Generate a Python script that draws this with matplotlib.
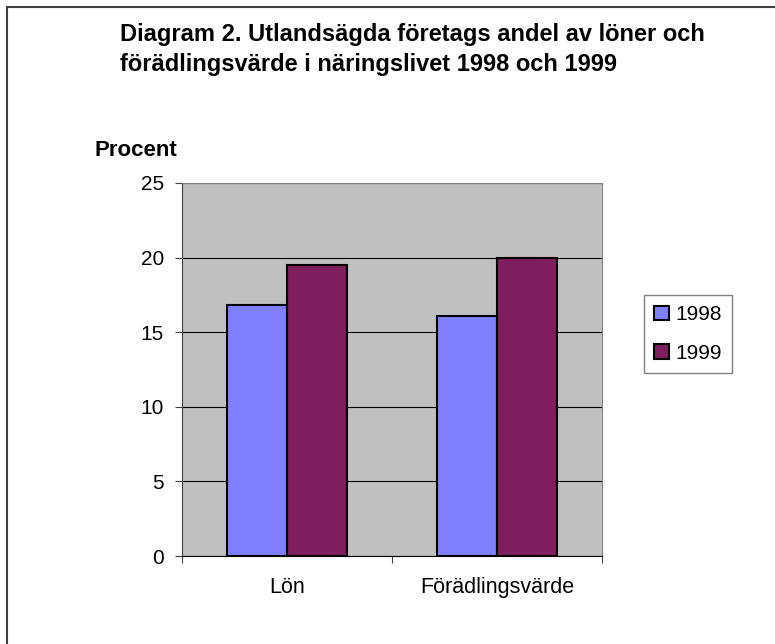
import matplotlib
matplotlib.use("Agg")
import matplotlib.pyplot as plt
from matplotlib.patches import Rectangle
import numpy as np

# data
categories = ["Lön", "Förädlingsvärde"]
years = ["1998", "1999"]
values_1998 = [16.8, 16.1]
values_1999 = [19.5, 20.0]
colors = ["#8080FF", "#7F1F5F"]

plt.rcParams["font.family"] = ["Liberation Sans", "DejaVu Sans"]

W, H = 775, 644
fig = plt.figure(figsize=(W / 100, H / 100), dpi=100)

def fx(px):
    return px / W

def fy(py):
    return 1 - py / H

# outer chart border (clipped at right and bottom like the source)
fig.patches.append(Rectangle((fx(7), fy(660)), fx(800), 660 / H - 7 / H,
                             transform=fig.transFigure, fill=False,
                             edgecolor="#404040", linewidth=1.5))

ax = fig.add_axes([fx(182), fy(556), fx(602) - fx(182), (556 - 183) / H])
ax.set_facecolor("#C0C0C0")

x = np.arange(len(categories))
w = 60 / 210
ax.bar(x - w / 2, values_1998, w, color=colors[0], edgecolor="black",
       linewidth=1.5, label=years[0], zorder=3)
ax.bar(x + w / 2, values_1999, w, color=colors[1], edgecolor="black",
       linewidth=1.5, label=years[1], zorder=3)

ax.set_xlim(-0.5, 1.5)
ax.set_ylim(0, 25)
ax.set_yticks([0, 5, 10, 15, 20, 25])
ax.yaxis.grid(True, color="black", linewidth=0.8, zorder=1)
ax.set_axisbelow(True)

ax.set_xticks([-0.5, 0.5, 1.5])
ax.set_xticklabels([])
ax.tick_params(axis="x", direction="out", length=5, color="#404040")
ax.tick_params(axis="y", direction="out", length=5, color="#404040",
               labelsize=15, pad=8)
for i, c in enumerate(categories):
    ax.text(i, -2.1, c, ha="center", va="center", fontsize=15.5)

for s in ["top", "right"]:
    ax.spines[s].set_color("#808080")
ax.spines["left"].set_color("#404040")
ax.spines["bottom"].set_color("black")

fig.text(fx(120), fy(35), "Diagram 2. Utlandsägda företags andel av löner och",
         ha="left", va="center", fontsize=17, fontweight="bold")
fig.text(fx(120), fy(65), "förädlingsvärde i näringslivet 1998 och 1999",
         ha="left", va="center", fontsize=17, fontweight="bold")
fig.text(fx(95), fy(150), "Procent", ha="left", va="center", fontsize=16,
         fontweight="bold")

leg = ax.legend(loc="center left", bbox_to_anchor=(fx(644), fy(334)),
                bbox_transform=fig.transFigure, fontsize=15, frameon=True,
                fancybox=False, edgecolor="#808080", framealpha=1,
                handlelength=0.7, handleheight=0.7, handletextpad=0.3,
                borderpad=0.5, labelspacing=0.95, borderaxespad=0)
leg.get_frame().set_linewidth(1.0)

fig.savefig("out.png", dpi=100)
